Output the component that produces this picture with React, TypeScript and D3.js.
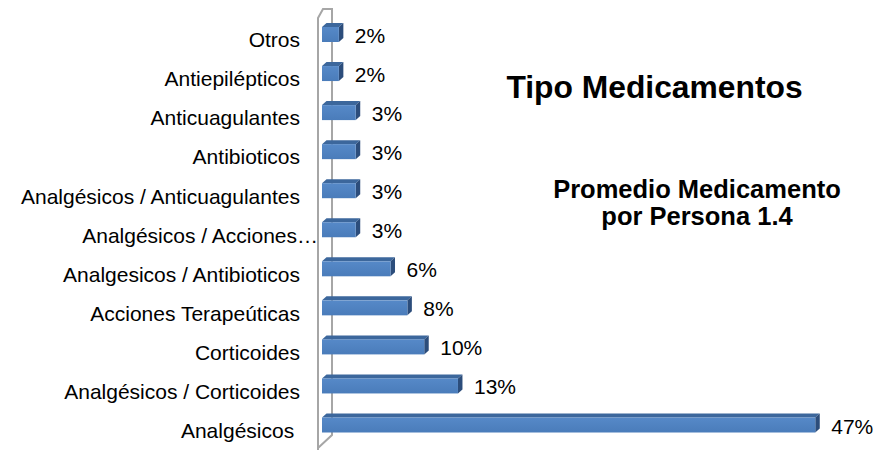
import React from "react";
import * as d3 from "d3";

const categories = [
  "Otros",
  "Antiepilépticos",
  "Anticuagulantes",
  "Antibioticos",
  "Analgésicos / Anticuagulantes",
  "Analgésicos / Acciones…",
  "Analgesicos / Antibioticos",
  "Acciones Terapeúticas",
  "Corticoides",
  "Analgésicos / Corticoides",
  "Analgésicos\u00A0",
];
const values = [1.6, 1.6, 3.2, 3.2, 3.2, 3.2, 6.5, 8.1, 9.7, 12.9, 46.8];
const valueLabels = ["2%", "2%", "3%", "3%", "3%", "3%", "6%", "8%", "10%", "13%", "47%"];
const title = "Tipo Medicamentos";
const subtitleLines = ["Promedio Medicamento", "por Persona 1.4"];

const W = 877;
const H = 451;
const FONT = "'Liberation Sans', Arial, Helvetica, sans-serif";

export default function App() {
  const x = d3.scaleLinear().domain([0, 50]).range([322, 322 + 50 * 10.54]);
  const y = d3
    .scalePoint<string>()
    .domain(categories)
    .range([34.5, 425]);

  const barH = 15;
  const dx = 4.5;
  const dy = 4;

  const wallFront = 318;
  const wallBack = 332;

  return (
    <div style={{ position: "absolute", left: 0, top: 0 }}>
      <svg width={W} height={H} style={{ display: "block", background: "#fff" }}>
        <defs>
          <linearGradient id="frontGrad" x1="0" y1="0" x2="0" y2="1">
            <stop offset="0" stopColor="#5689c8" />
            <stop offset="1" stopColor="#4a7cba" />
          </linearGradient>
        </defs>
        {/* Axis wall */}
        <path
          d={`M${wallFront},450 L${wallFront},18 L${wallFront + 5},9 L${wallBack},9 L${wallBack},435 L${wallFront},448`}
          fill="none"
          stroke="#a6a6a6"
          strokeWidth={2}
        />
        {/* Bars */}
        {categories.map((c, i) => {
          const cy = y(c)!;
          const x0 = x(0);
          const x1 = x(values[i]);
          const top = cy - barH / 2;
          const bot = cy + barH / 2;
          return (
            <g key={c}>
              <path
                d={`M${x0},${top} L${x0 + dx},${top - dy} L${x1 + dx},${top - dy} L${x1},${top} Z`}
                fill="#3c679c"
              />
              <path
                d={`M${x1},${top} L${x1 + dx},${top - dy} L${x1 + dx},${bot - dy} L${x1},${bot} Z`}
                fill="#2c4d7b"
              />
              <rect x={x0} y={top} width={x1 - x0} height={barH} fill="url(#frontGrad)" />
              <text
                x={x1 + 16}
                y={cy + 8.5}
                fontFamily={FONT}
                fontSize={21}
                fill="#000"
              >
                {valueLabels[i]}
              </text>
              <text
                x={c.endsWith("…") ? 318 : 300}
                y={cy + 12.8}
                textAnchor="end"
                fontFamily={FONT}
                fontSize={21}
                fill="#000"
              >
                {c}
              </text>
            </g>
          );
        })}
        {/* Titles */}
        <text
          x={654.5}
          y={98}
          textAnchor="middle"
          fontFamily={FONT}
          fontSize={31.8}
          fontWeight="bold"
          fill="#000"
        >
          {title}
        </text>
        {subtitleLines.map((t, i) => (
          <text
            key={t}
            x={697}
            y={198 + i * 27}
            textAnchor="middle"
            fontFamily={FONT}
            fontSize={25.5}
            fontWeight="bold"
            fill="#000"
          >
            {t}
          </text>
        ))}
      </svg>
    </div>
  );
}
